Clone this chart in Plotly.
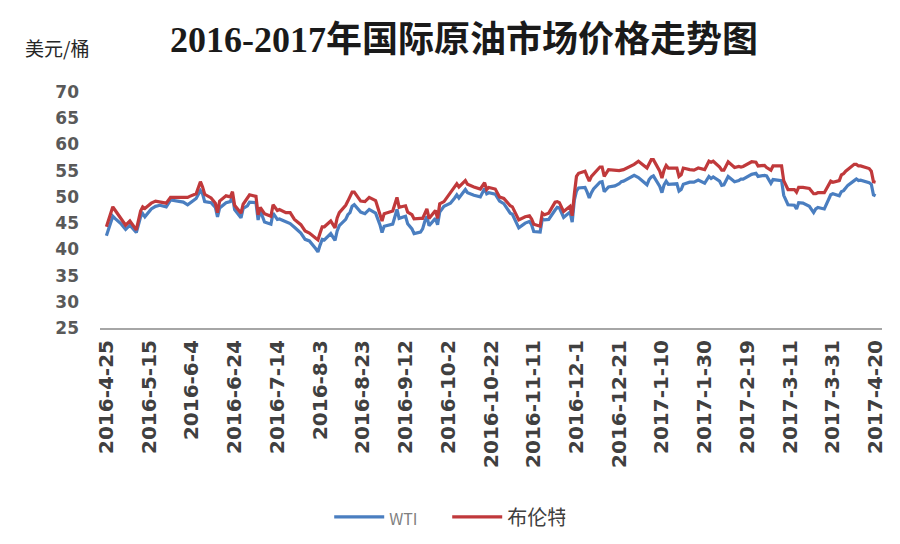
import plotly.graph_objects as go

dates = [
    "2016-04-25","2016-04-26","2016-04-28","2016-04-29","2016-05-02","2016-05-04","2016-05-06","2016-05-09",
    "2016-05-11","2016-05-12","2016-05-13","2016-05-16","2016-05-18","2016-05-20","2016-05-23","2016-05-25",
    "2016-05-27","2016-05-31","2016-06-02","2016-06-03","2016-06-06","2016-06-08","2016-06-09","2016-06-10",
    "2016-06-13","2016-06-15","2016-06-16","2016-06-17","2016-06-20","2016-06-22","2016-06-23","2016-06-24",
    "2016-06-27","2016-06-28","2016-06-30","2016-07-01","2016-07-04","2016-07-05","2016-07-06","2016-07-08",
    "2016-07-11","2016-07-12","2016-07-14","2016-07-15","2016-07-18","2016-07-20","2016-07-22","2016-07-25",
    "2016-07-27","2016-07-29","2016-08-01","2016-08-02","2016-08-03","2016-08-04","2016-08-05","2016-08-08",
    "2016-08-10","2016-08-11","2016-08-12","2016-08-15","2016-08-16","2016-08-17","2016-08-18","2016-08-19",
    "2016-08-22","2016-08-24","2016-08-26","2016-08-29","2016-08-31","2016-09-01","2016-09-02","2016-09-06",
    "2016-09-08","2016-09-09","2016-09-12","2016-09-13","2016-09-15","2016-09-16","2016-09-19","2016-09-20",
    "2016-09-21","2016-09-22","2016-09-23","2016-09-26","2016-09-27","2016-09-28","2016-09-30","2016-10-03",
    "2016-10-05","2016-10-06","2016-10-07","2016-10-10","2016-10-11","2016-10-13","2016-10-14","2016-10-17",
    "2016-10-19","2016-10-20","2016-10-21","2016-10-24","2016-10-26","2016-10-28","2016-10-31","2016-11-01",
    "2016-11-03","2016-11-04","2016-11-07","2016-11-09","2016-11-10","2016-11-11","2016-11-14","2016-11-15",
    "2016-11-16","2016-11-18","2016-11-21","2016-11-22","2016-11-23","2016-11-25","2016-11-28","2016-11-29",
    "2016-11-30","2016-12-01","2016-12-02","2016-12-05","2016-12-06","2016-12-07","2016-12-08","2016-12-09",
    "2016-12-12","2016-12-13","2016-12-14","2016-12-16","2016-12-19","2016-12-21","2016-12-22","2016-12-23",
    "2016-12-28","2016-12-30","2017-01-03","2017-01-04","2017-01-05","2017-01-06","2017-01-09","2017-01-10",
    "2017-01-11","2017-01-12","2017-01-13","2017-01-17","2017-01-18","2017-01-19","2017-01-20","2017-01-23",
    "2017-01-25","2017-01-27","2017-01-30","2017-02-01","2017-02-02","2017-02-03","2017-02-06","2017-02-07",
    "2017-02-08","2017-02-10","2017-02-13","2017-02-15","2017-02-16","2017-02-17","2017-02-21","2017-02-23",
    "2017-02-24","2017-02-27","2017-02-28","2017-03-02","2017-03-03","2017-03-06","2017-03-07","2017-03-08",
    "2017-03-09","2017-03-10","2017-03-13","2017-03-14","2017-03-15","2017-03-17","2017-03-20","2017-03-22",
    "2017-03-23","2017-03-24","2017-03-27","2017-03-29","2017-03-30","2017-03-31","2017-04-03","2017-04-04",
    "2017-04-05","2017-04-06","2017-04-07","2017-04-10","2017-04-11","2017-04-12","2017-04-13","2017-04-17",
    "2017-04-18","2017-04-19","2017-04-20",
]

wti = [
    42.6,44.0,46.3,45.9,44.8,43.8,44.6,43.2,
    46.2,46.8,46.2,47.7,48.2,48.4,48.1,49.4,
    49.3,49.0,48.5,48.8,49.7,51.2,50.6,49.1,
    48.9,48.0,46.2,47.9,48.9,49.1,50.1,47.6,
    46.0,47.8,48.3,49.0,48.9,45.6,47.4,45.2,
    44.8,46.9,45.7,45.8,45.3,44.9,44.2,43.1,
    41.9,41.6,40.1,39.5,40.8,41.9,41.8,43.0,
    41.7,43.5,44.5,45.7,46.6,47.0,48.2,48.5,
    47.1,46.8,47.6,46.9,44.7,43.2,44.4,44.8,
    47.6,45.9,46.3,44.9,43.9,43.0,43.3,43.9,
    45.3,46.3,44.5,45.9,44.7,47.1,48.2,48.8,
    49.8,50.4,49.8,51.4,50.8,50.4,50.3,50.0,
    51.6,50.6,50.8,50.5,49.2,48.7,46.9,46.7,
    44.7,44.1,45.0,45.3,44.7,43.4,43.3,45.8,
    45.6,45.7,47.5,48.0,47.9,46.1,47.1,45.2,
    49.4,51.1,51.7,51.8,50.9,49.8,50.8,51.5,
    52.8,52.9,51.0,51.9,52.1,52.5,52.9,53.0,
    54.1,53.7,52.3,53.3,53.8,54.0,52.0,50.8,
    52.3,53.0,52.4,52.5,51.1,51.4,52.4,52.8,
    52.8,53.2,52.6,53.9,53.5,53.8,53.0,52.2,
    52.3,53.9,52.9,53.1,53.4,53.4,54.3,54.5,
    53.9,54.1,54.0,52.6,53.3,53.2,53.1,50.3,
    49.3,48.5,48.4,47.7,48.9,48.8,48.2,47.0,
    47.7,48.0,47.7,49.5,50.4,50.6,50.2,51.0,
    51.2,51.7,52.2,53.1,53.4,53.1,53.2,52.7,
    52.4,50.4,50.2,
]

brent = [
    44.3,45.7,48.1,47.5,45.8,44.6,45.4,43.7,
    47.3,48.1,47.8,48.8,49.2,49.0,48.8,49.9,
    49.9,49.8,49.9,50.1,50.6,52.9,51.9,50.5,
    49.8,48.8,47.0,49.2,50.2,50.0,51.0,48.4,
    46.9,48.6,49.7,50.4,50.1,46.6,48.0,46.8,
    46.3,48.5,47.4,47.6,47.0,47.0,45.7,44.7,
    43.5,43.1,42.1,41.8,43.1,44.3,44.3,45.4,
    44.1,46.0,47.0,48.4,49.2,49.9,50.9,50.9,
    49.2,49.1,49.9,49.3,47.0,45.4,46.8,47.3,
    49.9,48.0,48.3,47.1,46.6,45.8,45.9,45.9,
    46.8,47.7,45.9,47.4,45.9,48.7,49.1,50.9,
    51.9,52.5,51.9,53.1,52.4,52.0,51.9,51.5,
    52.7,51.4,51.8,51.5,50.0,49.7,48.3,48.1,
    46.4,45.6,46.2,46.4,45.8,44.8,44.4,46.9,
    46.6,46.9,49.0,49.1,48.9,47.2,48.2,46.4,
    50.5,53.9,54.5,54.9,53.9,53.0,53.9,54.3,
    55.7,55.7,53.9,55.2,55.0,55.0,55.1,55.2,
    56.2,56.8,55.5,56.5,57.1,57.1,54.9,53.6,
    55.1,56.0,55.5,55.5,53.9,54.2,55.5,55.2,
    55.1,55.5,55.2,56.8,56.6,56.8,55.7,55.1,
    55.1,56.7,55.6,55.8,55.7,55.8,56.7,56.6,
    55.9,56.0,55.6,55.1,55.9,55.9,55.9,53.1,
    52.2,51.4,51.4,50.9,51.8,51.8,51.6,50.6,
    50.6,50.8,50.8,52.4,53.0,52.8,53.1,54.2,
    54.4,54.9,55.2,56.2,56.2,55.9,55.9,55.4,
    54.9,52.9,52.8,
]

tick_dates = [
    "2016-04-25","2016-05-15","2016-06-04","2016-06-24","2016-07-14","2016-08-03","2016-08-23",
    "2016-09-12","2016-10-02","2016-10-22","2016-11-11","2016-12-01","2016-12-21","2017-01-10",
    "2017-01-30","2017-02-19","2017-03-11","2017-03-31","2017-04-20",
]
tick_labels = [
    "2016-4-25","2016-5-15","2016-6-4","2016-6-24","2016-7-14","2016-8-3","2016-8-23",
    "2016-9-12","2016-10-2","2016-10-22","2016-11-11","2016-12-1","2016-12-21","2017-1-10",
    "2017-1-30","2017-2-19","2017-3-11","2017-3-31","2017-4-20",
]
y_ticks = [25, 30, 35, 40, 45, 50, 55, 60, 65, 70]

series_names = ["<span style='font-size:16px;color:#7f7f7f'>WTI</span>", "布伦特"]
colors = ["#4A7EC0", "#C0393B"]

fig = go.Figure()
fig.add_trace(go.Scatter(x=dates, y=wti, mode="lines", name=series_names[0],
                         line=dict(color=colors[0], width=3.2)))
fig.add_trace(go.Scatter(x=dates, y=brent, mode="lines", name=series_names[1],
                         line=dict(color=colors[1], width=3.2)))

fig.update_layout(
    width=900, height=544,
    margin=dict(l=92, r=26, t=84, b=224),
    plot_bgcolor="white", paper_bgcolor="white",
    showlegend=True,
    legend=dict(orientation="h", x=0.444, xanchor="center", y=-0.80, yanchor="middle",
                font=dict(family="Noto Sans CJK SC, Liberation Sans, sans-serif", size=20, color="#404040"),
                itemwidth=50, entrywidth=53, tracegroupgap=0),
    font=dict(family="Liberation Sans, Noto Sans CJK SC, sans-serif"),
)
fig.update_xaxes(
    type="date", range=["2016-04-22", "2017-04-23"],
    tickmode="array", tickvals=tick_dates, ticktext=tick_labels,
    tickangle=-90, tickfont=dict(size=20, color="#404040", family="DejaVu Sans, sans-serif", weight="bold"),
    showgrid=False, showline=True, linecolor="#A6A6A6", linewidth=2,
    ticks="", zeroline=False, ticklabelstandoff=2,
)
fig.update_yaxes(
    range=[25, 70], tickmode="array", tickvals=y_ticks,
    tickfont=dict(size=17, color="#595959", family="DejaVu Sans, sans-serif", weight="bold"),
    showgrid=False, showline=False, zeroline=False, ticks="", ticklabelstandoff=20,
)
fig.add_annotation(text="<b>2016-2017年国际原油市场价格走势图</b>", xref="paper", yref="paper",
                   x=0.465, y=1.22, xanchor="center", yanchor="middle", showarrow=False,
                   font=dict(size=36, color="#1a1a1a", family="Liberation Serif, Noto Sans CJK SC, serif"))
fig.add_annotation(text="美元/桶", xref="paper", yref="paper",
                   x=-0.055, y=1.19, xanchor="center", yanchor="middle", showarrow=False,
                   font=dict(size=19, color="#262626", family="Noto Sans CJK SC, sans-serif"))

fig.write_html("out.html")
